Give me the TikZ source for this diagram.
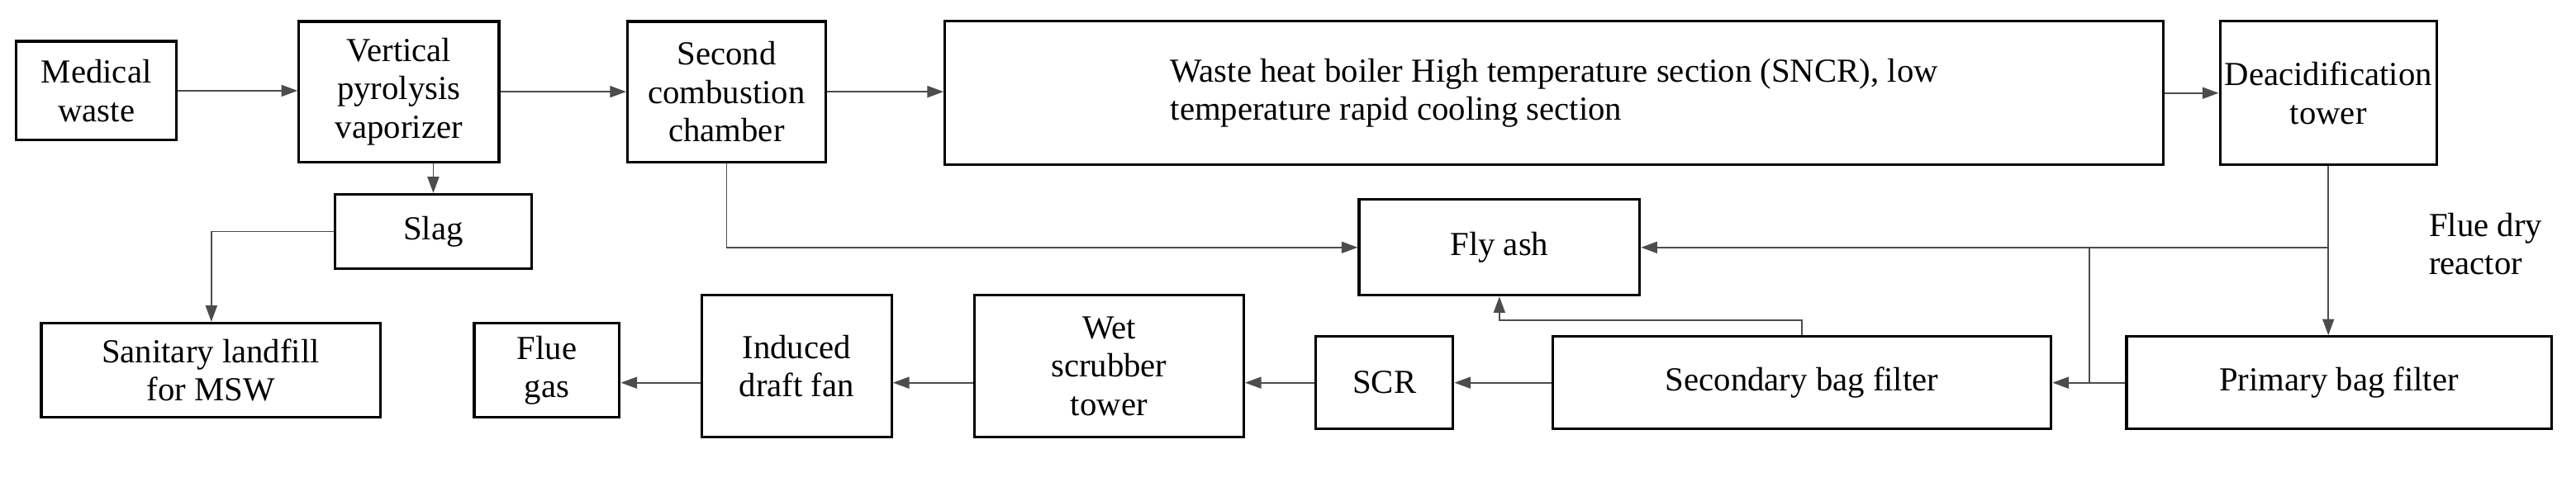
\documentclass[tikz,border=0pt]{standalone}
\usepackage{fontspec}
\setmainfont{Liberation Serif}
\usetikzlibrary{arrows.meta}
\tikzstyle{unit} = [align=center,draw=black,line width=1.1pt,rectangle,text centered,inner sep=2pt]
\tikzstyle{flow} = [draw=black!70,line width=0.6pt,-{Triangle[length=7pt,width=5pt]}]
\tikzstyle{link} = [draw=black!70,line width=0.6pt]

\begin{document}
\begin{tikzpicture}[font=\rmfamily\fontsize{14.5}{16.5}\selectfont]
	\useasboundingbox (0,0) rectangle (39,7.3);
	\node (med) [unit,minimum width=2.43cm,minimum height=1.5cm] at (1.46,5.925) {Medical\\waste};
	\node (vert) [unit,minimum width=3.03cm,minimum height=2.13cm] at (6.04,5.91) {Vertical\\pyrolysis\\vaporizer};
	\node (slag) [unit,minimum width=2.98cm,minimum height=1.13cm] at (6.56,3.79) {Slag};
	\node (land) [unit,minimum width=5.13cm,minimum height=1.43cm] at (3.19,1.69) {Sanitary landfill\\for MSW};
	\node (sec) [unit,minimum width=3.0cm,minimum height=2.13cm] at (11.0,5.91) {Second\\combustion\\chamber};
	\node (boil) [unit,align=left,minimum width=18.45cm,minimum height=2.18cm] at (23.53,5.89) {Waste heat boiler High temperature section (SNCR), low\\temperature rapid cooling section};
	\node (deac) [unit,minimum width=3.15cm,minimum height=2.18cm] at (35.25,5.89) {Deacidification\\tower};
	\node (fly) [unit,minimum width=4.25cm,minimum height=1.45cm] at (22.7,3.55) {Fly ash};
	\node (prim) [unit,minimum width=6.43cm,minimum height=1.4cm] at (35.41,1.5) {Primary bag filter};
	\node (secb) [unit,minimum width=7.55cm,minimum height=1.4cm] at (27.28,1.5) {Secondary bag filter};
	\node (scr) [unit,minimum width=2.08cm,minimum height=1.4cm] at (20.96,1.5) {SCR};
	\node (wet) [unit,minimum width=4.08cm,minimum height=2.15cm] at (16.79,1.75) {Wet\\scrubber\\tower};
	\node (fan) [unit,minimum width=2.88cm,minimum height=2.15cm] at (12.06,1.75) {Induced\\draft fan};
	\node (flue) [unit,minimum width=2.2cm,minimum height=1.43cm] at (8.28,1.69) {Flue\\gas};
	\node (dry) [align=left,anchor=west] at (36.65,3.6) {Flue dry\\reactor};
	\coordinate (j) at (deac.south |- fly.east);
	\coordinate (b) at (31.63,0);
	\coordinate (k) at (3.2,0);
	\draw [flow] (med) -- (med -| vert.west);
	\draw [flow] (vert) -- (vert -| sec.west);
	\draw [flow] (sec) -- (sec -| boil.west);
	\draw [flow] (boil) -- (boil -| deac.west);
	\draw [flow] (vert.south -| slag) -- (slag.north);
	\draw [flow] (slag.west) -| (land.north -| k);
	\draw [flow] (sec.south) |- (fly.west);
	\draw [flow] (deac.south) -- (deac.south |- prim.north);
	\draw [flow] (j) -- (fly.east);
	\draw [link] (prim.west -| b) -- (j -| b);
	\draw [flow] (secb.north) -- ++(0,0.23) -| (fly.south);
	\draw [flow] (prim.west) -- (secb.east);
	\draw [flow] (secb.west) -- (scr.east);
	\draw [flow] (scr.west) -- (scr.west -| wet.east);
	\draw [flow] (wet.west |- scr.west) -- (fan.east |- scr.west);
	\draw [flow] (fan.west |- scr.west) -- (flue.east |- scr.west);
\end{tikzpicture}
\end{document}
